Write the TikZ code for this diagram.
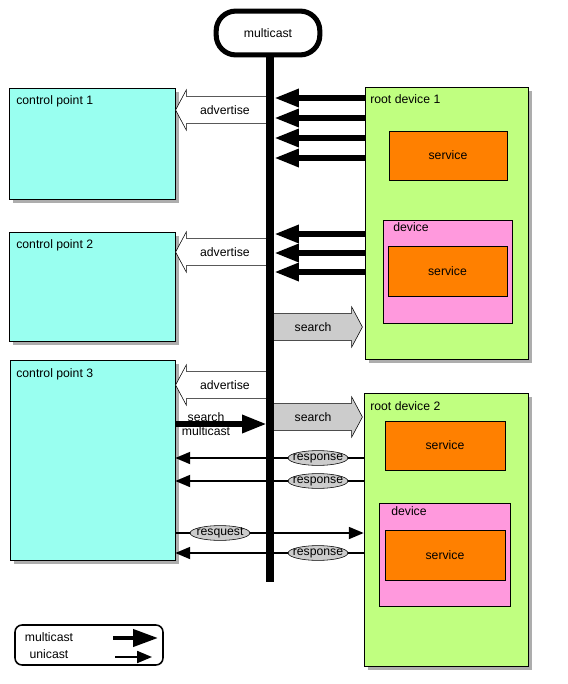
\documentclass[tikz,border=0pt]{standalone}
\usepackage{fontspec}
\setmainfont{Liberation Sans}
\usetikzlibrary{shapes}
\usetikzlibrary{shapes.geometric}
\usetikzlibrary{shapes.arrows}
\usetikzlibrary{arrows.meta,shadows,fit,calc}

\definecolor{cpcyan}{HTML}{99FFF0}
\definecolor{rdgreen}{HTML}{C0FF80}
\definecolor{svorange}{HTML}{FF8000}
\definecolor{dvpink}{HTML}{FF99DD}
\definecolor{msggray}{HTML}{CCCCCC}

\tikzset{
  boxshadow/.style={drop shadow={shadow xshift=2.6pt,shadow yshift=-2.6pt,fill=black!32,opacity=1}},
  cpbox/.style={draw=black,fill=cpcyan,inner sep=0pt,boxshadow},
  rdbox/.style={draw=black,fill=rdgreen,inner sep=0pt,boxshadow},
  dvbox/.style={draw=black,fill=dvpink,inner sep=0pt},
  svbox/.style={draw=black,fill=svorange,inner sep=0pt},
  boxlab/.style={anchor=west,inner sep=0pt},
  blockarrow/.style={draw=black,single arrow,minimum width=28.3pt,minimum height=65pt,
    single arrow head extend=4.6pt,single arrow tip angle=124,inner xsep=0pt,inner ysep=6.3pt,
    text height=6.4pt,text depth=0pt},
  mcast/.style={line width=4.4pt,-{Triangle[length=17.7pt,width=12pt]}},
  ucast/.style={line width=1.4pt,-{Triangle[length=10.6pt,width=8.5pt]}},
  msglab/.style={draw=black,fill=msggray,ellipse,inner sep=0pt,minimum width=42.5pt,minimum height=10.5pt}
}

\begin{document}
\begin{tikzpicture}[x=0.025cm,y=-0.025cm,font=\fontsize{8.7}{10}\selectfont]
  \useasboundingbox (0,0) rectangle (567,684);

  % 多播节点
  \node[draw=black,line width=3.6pt,rounded corners=14pt,minimum width=73.7pt,minimum height=31.2pt] (mc) at (268,33) {multicast};
  \coordinate (bus) at (270,582);
  \coordinate (busR) at (274,0);

  % 控制点
  \node[cpbox,fit={(9,88) (175,199)}] (cp1) {};
  \node[cpbox,fit={(9,232) (175,341)}] (cp2) {};
  \node[cpbox,fit={(10,360) (175,560)}] (cp3) {};
  \node[boxlab] (cp1lab) at (16,101) {control point 1};
  \node[boxlab] (cp2lab) at (16,245) {control point 2};
  \node[boxlab] (cp3lab) at (16,374) {control point 3};

  % 根设备 1
  \node[rdbox,fit={(365,87) (528,359)}] (rd1) {};
  \node[boxlab] (rd1lab) at (370,99) {root device 1};
  \node[svbox,fit={(389,131) (507,180)}] (sv1) {};
  \node (sv1lab) at (sv1) {service};
  \node[dvbox,fit={(383,220) (512,323)}] (dv1) {};
  \node[boxlab] (dv1lab) at (393,227) {device};
  \node[svbox,fit={(388,246) (507,296)}] (sv2) {};
  \node (sv2lab) at (sv2) {service};

  % 根设备 2
  \node[rdbox,fit={(364,393) (528,666)}] (rd2) {};
  \node[boxlab] (rd2lab) at (370,406) {root device 2};
  \node[svbox,fit={(385,421) (505,470)}] (sv3) {};
  \node (sv3lab) at (sv3) {service};
  \node[dvbox,fit={(379,503) (510,606)}] (dv2) {};
  \node[boxlab] (dv2lab) at (391,511) {device};
  \node[svbox,fit={(385,530) (505,580)}] (sv4) {};
  \node (sv4lab) at (sv4) {service};

  % 通告
  \foreach \y in {98,118,138,158}
    \draw[mcast] (rd1.west |- 0,\y) -- (busR |- 0,\y);
  \foreach \y in {234,253,272}
    \draw[mcast] (rd1.west |- 0,\y) -- (busR |- 0,\y);
  \node[blockarrow,fill=white,shape border rotate=180,anchor=tip] (adv1) at (cp1.east |- 0,110) {advertise};
  \node[blockarrow,fill=white,shape border rotate=180,anchor=tip] (adv2) at (cp2.east |- 0,252) {advertise};
  \node[blockarrow,fill=white,shape border rotate=180,anchor=tip] (adv3) at (cp3.east |- 0,385) {advertise};

  % 搜索
  \node[blockarrow,fill=msggray,anchor=tip] (srch1) at ($(rd1.west |- 0,327)+(-2,0)$) {search};
  \node[blockarrow,fill=msggray,anchor=tip] (srch2) at ($(rd2.west |- 0,417)+(-1,0)$) {search};
  \node[align=center,inner sep=0pt] (srchlab) at (206,424) {search\\multicast};
  \draw[mcast] (cp3.east |- 0,424) -- ($(bus |- 0,424)+(-3,0)$);

  % 总线
  \draw[line width=5.6pt] (bus |- mc.south) -- (bus);

  % 单播应答
  \foreach \y/\n in {458/r1,481/r2,553/r3} {
    \draw[ucast] (rd2.west |- 0,\y) -- (cp3.east |- 0,\y);
    \node[msglab] (\n) at (318,\y) {\makebox[0pt]{response}};
  }
  \draw[ucast] (cp3.east |- 0,533) -- (rd2.west |- 0,533);
  \node[msglab] (req) at (220,533) {\makebox[0pt]{resquest}};

  % 图例
  \node[draw=black,line width=1.1pt,rounded corners=5pt,inner sep=0pt,fit={(15,625) (163,665)}] (legend) {};
  \node (lgm) at (49,637) {multicast};
  \node (lgu) at (49,654) {unicast};
  \draw[mcast,line width=3pt] (113,638) -- (158,638);
  \draw[ucast] (115,657) -- (152,657);
\end{tikzpicture}
\end{document}
